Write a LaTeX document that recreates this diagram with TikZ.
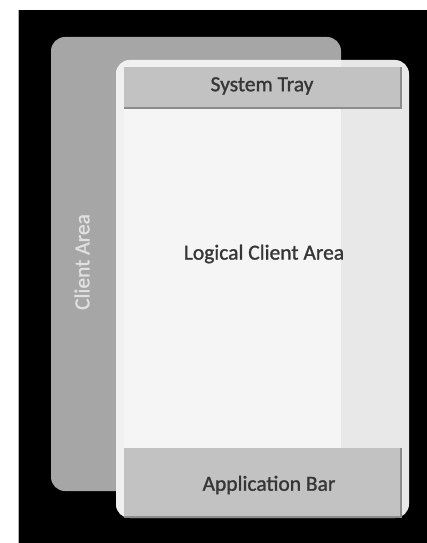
\documentclass[tikz,border=0pt]{standalone}
\usepackage{fontspec}
\setmainfont{Carlito}
\newfontface\labelfont{Carlito}[FakeBold=1.2]
\usetikzlibrary{positioning}

\definecolor{backgray}{HTML}{A6A6A6}
\definecolor{bargray}{HTML}{C2C2C2}
\definecolor{shadegray}{HTML}{8C8C8C}
\definecolor{paper}{HTML}{F5F5F5}
\definecolor{edgepaper}{HTML}{E8E8E8}
\definecolor{labelgray}{HTML}{363636}

\begin{document}
\begin{tikzpicture}[x=1pt, y=-1pt,
  panel/.style = {rounded corners=14pt},
  bar/.style = {fill=bargray, draw=none},
  barshade/.style = {fill=shadegray, draw=none},
  label/.style = {font=\labelfont\fontsize{21.5}{25}\selectfont, text=labelgray}]
\useasboundingbox (0,0) rectangle (427,543);
% page margin and black background
\fill[white] (0,0) rectangle (427,543);
\fill[black] (18,10) rectangle (427,543);
\draw[gray!60, line width=0.8pt] (18.4,10) -- (18.4,543);
% client area behind
\fill[backgray, panel] (51,37) rectangle (341,491);
\node[label, text=white!88!black, rotate=90] (client) at (82,262) {Client Area};
% front panel
\fill[edgepaper, panel] (116,60) rectangle (409,518);
\begin{scope}
  \clip[panel] (116,60) rectangle (409,518);
  \fill[white!94!black] (116,60) rectangle (341,518);
\end{scope}
\fill[paper] (124,107) rectangle (341,448);
% system tray
\fill[barshade] (124,67) rectangle (401.5,108.5);
\fill[bar] (124,67) rectangle (399.5,106.5);
\node[label] (tray) at (262,86) {System Tray};
% logical area
\node[label] (logical) at (264,254) {Logical Client Area};
% application bar
\fill[barshade] (124,448) rectangle (401.5,518);
\fill[bar] (124,448) rectangle (399.5,515.5);
\node[label] (appbar) at (269,485) {Application Bar};
\end{tikzpicture}
\end{document}
